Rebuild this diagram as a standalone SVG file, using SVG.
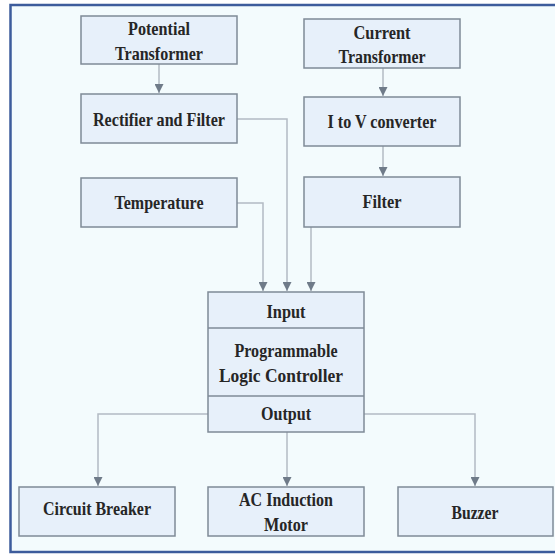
<svg xmlns="http://www.w3.org/2000/svg" width="555" height="554" viewBox="0 0 555 554">
<defs>
<style>
.box{fill:#e7f0fa;stroke:#7f8b97;stroke-width:1.5}
.div{stroke:#7f8b97;stroke-width:1.5}
.t{font-family:"Liberation Serif","Times New Roman",serif;font-weight:bold;font-size:19px;fill:#262626;text-anchor:middle}
.c{fill:none;stroke:#b3bbc3;stroke-width:1.5;marker-end:url(#ah)}
</style>
<marker id="ah" markerUnits="userSpaceOnUse" markerWidth="9" markerHeight="9" refX="9" refY="4.5" orient="auto">
<path d="M0,0 L9,4.5 L0,9 Z" fill="#6f7b89"/>
</marker>
</defs>
<rect x="0" y="0" width="555" height="554" fill="#ffffff"/>
<rect x="10.5" y="5" width="560" height="547" fill="#f3fbfd" stroke="#3d5c9c" stroke-width="2.5"/>
<g id="connectors">
<path class="c" d="M159,64 V93"/>
<path class="c" d="M383,68 V96"/>
<path class="c" d="M383,146 V176"/>
<path class="c" d="M237,119 H287 V291"/>
<path class="c" d="M237,203 H263 V291"/>
<path class="c" d="M311,227 V291"/>
<path class="c" d="M208,414 H98 V486"/>
<path class="c" d="M287,432 V486"/>
<path class="c" d="M364,414 H475 V486"/>
</g>
<g id="potential-transformer">
<rect class="box" x="81" y="16" width="156" height="48"/>
<text class="t" x="159" y="35" textLength="62" lengthAdjust="spacingAndGlyphs">Potential</text>
<text class="t" x="159" y="60" textLength="88" lengthAdjust="spacingAndGlyphs">Transformer</text>
</g>
<g id="rectifier-filter">
<rect class="box" x="81" y="94" width="156" height="49"/>
<text class="t" x="159" y="126" textLength="132" lengthAdjust="spacingAndGlyphs">Rectifier and Filter</text>
</g>
<g id="temperature">
<rect class="box" x="81" y="178" width="156" height="49"/>
<text class="t" x="159" y="209" textLength="89" lengthAdjust="spacingAndGlyphs">Temperature</text>
</g>
<g id="current-transformer">
<rect class="box" x="304" y="19" width="156" height="49"/>
<text class="t" x="382" y="39" textLength="57" lengthAdjust="spacingAndGlyphs">Current</text>
<text class="t" x="382" y="63" textLength="87" lengthAdjust="spacingAndGlyphs">Transformer</text>
</g>
<g id="i-to-v">
<rect class="box" x="304" y="97" width="156" height="49"/>
<text class="t" x="382" y="128" textLength="109" lengthAdjust="spacingAndGlyphs">I to V converter</text>
</g>
<g id="filter">
<rect class="box" x="304" y="177" width="156" height="50"/>
<text class="t" x="382" y="208" textLength="39" lengthAdjust="spacingAndGlyphs">Filter</text>
</g>
<g id="plc">
<rect class="box" x="208" y="292" width="156" height="140"/>
<line class="div" x1="208" y1="328" x2="364" y2="328"/>
<line class="div" x1="208" y1="396" x2="364" y2="396"/>
<text class="t" x="286" y="318" textLength="39" lengthAdjust="spacingAndGlyphs">Input</text>
<text class="t" x="286" y="357" textLength="103" lengthAdjust="spacingAndGlyphs">Programmable</text>
<text class="t" x="281" y="382" textLength="124" lengthAdjust="spacingAndGlyphs">Logic Controller</text>
<text class="t" x="286" y="420" textLength="50" lengthAdjust="spacingAndGlyphs">Output</text>
</g>
<g id="circuit-breaker">
<rect class="box" x="19" y="487" width="156" height="49"/>
<text class="t" x="97" y="515" textLength="108" lengthAdjust="spacingAndGlyphs">Circuit Breaker</text>
</g>
<g id="ac-motor">
<rect class="box" x="208" y="487" width="156" height="49"/>
<text class="t" x="286" y="506" textLength="94" lengthAdjust="spacingAndGlyphs">AC Induction</text>
<text class="t" x="286" y="531" textLength="44" lengthAdjust="spacingAndGlyphs">Motor</text>
</g>
<g id="buzzer">
<rect class="box" x="398" y="487" width="155" height="49"/>
<text class="t" x="475" y="519" textLength="47" lengthAdjust="spacingAndGlyphs">Buzzer</text>
</g>
</svg>
